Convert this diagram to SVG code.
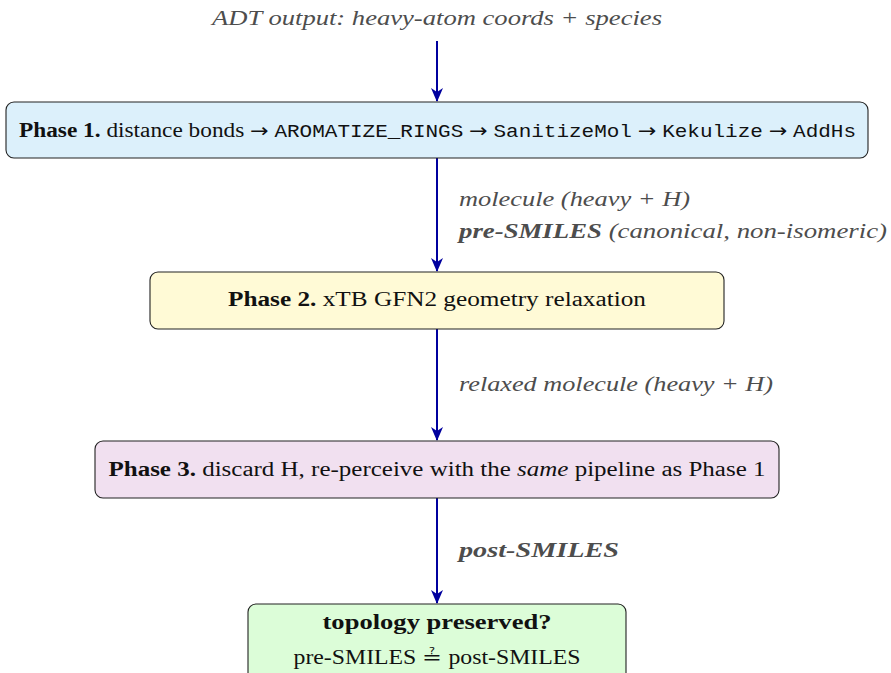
<svg xmlns="http://www.w3.org/2000/svg" width="891" height="673" viewBox="0 0 891 673">
<style>
.box{stroke:#222;stroke-width:1.1}
.t{font-family:"Liberation Serif","Times New Roman",serif;font-size:20px;fill:#111}
.m{font-family:"Liberation Mono","Courier New",monospace;font-size:18px}
.ar{font-family:"DejaVu Sans",sans-serif;font-size:19px}
.lab{font-family:"Liberation Serif","Times New Roman",serif;font-size:20px;font-style:italic;fill:#4d4d4d}
.b{font-weight:bold}
.i{font-style:italic}
.arr{stroke:#00009e;stroke-width:2;fill:none;marker-end:url(#ah)}
</style>
<defs>
<marker id="ah" markerUnits="userSpaceOnUse" markerWidth="14" markerHeight="14" viewBox="0 0 14 14" refX="13" refY="7" orient="auto">
<path d="M0,1 L14,7 L0,13 L4,7 z" fill="#00009e"/>
</marker>
</defs>
<g id="input">
<text class="lab" x="437" y="25" text-anchor="middle" textLength="450" lengthAdjust="spacingAndGlyphs">ADT output: heavy-atom coords + species</text>
</g>
<g id="connectors">
<line class="arr" x1="437" y1="41" x2="437" y2="101"/>
<line class="arr" x1="437" y1="158" x2="437" y2="271"/>
<line class="arr" x1="437" y1="329" x2="437" y2="440"/>
<line class="arr" x1="437" y1="498" x2="437" y2="603"/>
<text class="lab" x="459" y="206" textLength="231" lengthAdjust="spacingAndGlyphs">molecule (heavy + H)</text>
<text class="lab" x="459" y="238" textLength="428" lengthAdjust="spacingAndGlyphs"><tspan class="b">pre-SMILES</tspan> (canonical, non-isomeric)</text>
<text class="lab" x="459" y="391" textLength="314" lengthAdjust="spacingAndGlyphs">relaxed molecule (heavy + H)</text>
<text class="lab b" x="459" y="557" textLength="160" lengthAdjust="spacingAndGlyphs">post-SMILES</text>
</g>
<g id="phase1">
<rect class="box" x="6" y="102" width="862" height="56" rx="8" fill="#dcf0fb"/>
<text class="t" x="19" y="137" textLength="837" lengthAdjust="spacingAndGlyphs"><tspan class="b">Phase 1.</tspan> distance bonds <tspan class="ar">→</tspan> <tspan class="m">AROMATIZE_RINGS</tspan> <tspan class="ar">→</tspan> <tspan class="m">SanitizeMol</tspan> <tspan class="ar">→</tspan> <tspan class="m">Kekulize</tspan> <tspan class="ar">→</tspan> <tspan class="m">AddHs</tspan></text>
</g>
<g id="phase2">
<rect class="box" x="150" y="272" width="574" height="57" rx="8" fill="#fffad6"/>
<text class="t" x="437" y="306" text-anchor="middle" textLength="418" lengthAdjust="spacingAndGlyphs"><tspan class="b">Phase 2.</tspan> xTB GFN2 geometry relaxation</text>
</g>
<g id="phase3">
<rect class="box" x="95" y="441" width="684" height="57" rx="8" fill="#f1e0f0"/>
<text class="t" x="437" y="476" text-anchor="middle" textLength="657" lengthAdjust="spacingAndGlyphs"><tspan class="b">Phase 3.</tspan> discard H, re-perceive with the <tspan class="i">same</tspan> pipeline as Phase 1</text>
</g>
<g id="check">
<rect class="box" x="248" y="604" width="378" height="90" rx="8" fill="#dcfdd8"/>
<text class="t b" x="437" y="629" text-anchor="middle" textLength="229" lengthAdjust="spacingAndGlyphs">topology preserved?</text>
<text class="t" x="437" y="664" text-anchor="middle" textLength="287" lengthAdjust="spacingAndGlyphs">pre-SMILES <tspan>≟</tspan> post-SMILES</text>
</g>
</svg>
